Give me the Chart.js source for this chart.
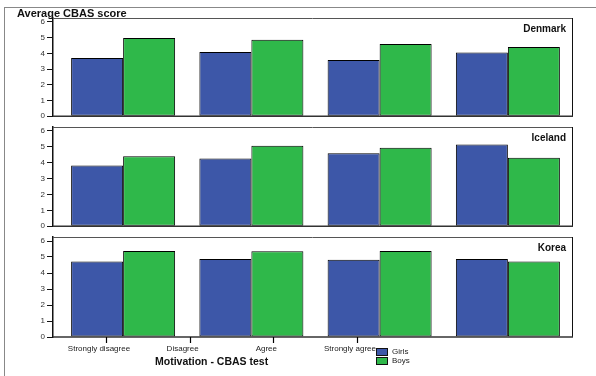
<!DOCTYPE html>
<html><head><meta charset="utf-8">
<script src="https://cdn.jsdelivr.net/npm/chart.js@4/dist/chart.umd.min.js"></script>
<style>
html,body{margin:0;padding:0;background:#fff;}
#wrap{position:relative;width:596px;height:376px;overflow:hidden;font-family:'Liberation Sans',Arial,sans-serif;}
#frame{position:absolute;left:4px;top:7px;width:640px;height:420px;border-left:1px solid #888;border-top:1px solid #888;}
canvas{position:absolute;left:0;}
.t{position:absolute;font-weight:bold;color:#111;white-space:nowrap;}
.lg{position:absolute;left:376px;width:12px;height:8px;box-sizing:border-box;border:1px solid #111;}
.lt{position:absolute;left:392px;font-size:8px;line-height:8px;color:#222;}
</style></head>
<body>
<div id="wrap">
  <div id="frame"></div>
  <canvas id="c0" width="596" height="115" style="top:8px"></canvas>
  <canvas id="c1" width="596" height="116" style="top:117px"></canvas>
  <canvas id="c2" width="596" height="149" style="top:227px"></canvas>
  <div class="t" style="left:17px;top:8px;font-size:11px;line-height:11px">Average CBAS score</div>
  <div class="t" style="left:155px;top:356px;font-size:10.5px;line-height:11px">Motivation - CBAS test</div>
  <div class="lg" style="top:348px;background:#3d57a8"></div>
  <div class="lg" style="top:357px;background:#2fb84a"></div>
  <div class="lt" style="top:348px">Girls</div>
  <div class="lt" style="top:357px">Boys</div>
</div>
<script>
// ---- data ----
const categories = ['Strongly disagree', 'Disagree', 'Agree', 'Strongly agree'];
const countries = ['Denmark', 'Iceland', 'Korea'];
const seriesNames = ['Girls', 'Boys'];
const yTicks = [0, 1, 2, 3, 4, 5, 6];
const denmarkGirls = [3.71, 4.09, 3.58, 4.06];
const denmarkBoys  = [4.97, 4.86, 4.59, 4.40];
const icelandGirls = [3.83, 4.27, 4.59, 5.14];
const icelandBoys  = [4.40, 5.07, 4.95, 4.32];
const koreaGirls   = [4.72, 4.87, 4.83, 4.88];
const koreaBoys    = [5.37, 5.36, 5.38, 4.72];

const panels = [
  [denmarkGirls, denmarkBoys],
  [icelandGirls, icelandBoys],
  [koreaGirls, koreaBoys]
];
const colors = ['#3d57a8', '#2fb84a'];

Chart.defaults.font.family = "'Liberation Sans', Arial, sans-serif";
Chart.defaults.color = '#222';

const framePlugin = {
  id: 'frame',
  afterLayout(chart) {
    const x = chart.scales.x;
    x.left = chart.chartArea.left + 6;
    x.configure();
  },
  afterDraw(chart, args, opts) {
    const {ctx, chartArea: a} = chart;
    ctx.save();
    ctx.lineWidth = 1;
    ctx.strokeStyle = '#555';
    ctx.beginPath(); ctx.moveTo(a.left, a.top + 0.5); ctx.lineTo(a.right, a.top + 0.5); ctx.stroke();
    ctx.strokeStyle = '#111';
    ctx.beginPath(); ctx.moveTo(a.right + 0.5, a.top); ctx.lineTo(a.right + 0.5, a.bottom); ctx.stroke();
    ctx.lineWidth = 1.5;
    ctx.strokeStyle = '#333';
    ctx.beginPath(); ctx.moveTo(a.left, a.bottom); ctx.lineTo(a.right + 1, a.bottom); ctx.stroke();
    const x2 = chart.scales.x2;
    if (x2) {
      ctx.lineWidth = 1.2;
      ctx.strokeStyle = '#000';
      x2.ticks.forEach(t => {
        const px = Math.round(x2.getPixelForValue(t.value)) + 0.5;
        ctx.beginPath(); ctx.moveTo(px, a.bottom); ctx.lineTo(px, a.bottom + 6); ctx.stroke();
      });
    }
    ctx.fillStyle = '#111';
    ctx.font = "bold 10px 'Liberation Sans', Arial, sans-serif";
    ctx.textAlign = 'right';
    ctx.textBaseline = 'middle';
    ctx.fillText(opts.label, a.right - 6, a.top + 11);
    ctx.restore();
  }
};

panels.forEach((vals, i) => {
  const last = i === panels.length - 1;
  const scales = {
    x: {
      type: 'category',
      display: false,
      offset: true,
      grid: { display: false }
    },
    y: {
      min: 0, max: 6.25,
      afterFit: s => { s.width = 53; },
      afterBuildTicks: s => { s.ticks = yTicks.map(v => ({ value: v })); },
      ticks: { font: { size: 8 }, color: '#333', padding: 2, includeBounds: false },
      grid: { drawOnChartArea: false, drawTicks: true, tickLength: 6, color: '#111', lineWidth: 1 },
      border: { display: true, color: '#111', width: 1.5 }
    }
  };
  if (last) {
    scales.x2 = {
      type: 'linear',
      position: 'bottom',
      bounds: 'data',
      offset: false,
      min: -0.633, max: 5.57,
      afterFit: s => { s.height = 22; },
      afterBuildTicks: s => { s.ticks = categories.map((c, k) => ({ value: k })); },
      ticks: {
        font: { size: 8 }, color: '#222', padding: 1, labelOffset: -7,
        maxRotation: 0, autoSkip: false, includeBounds: false,
        callback: (v) => categories[v]
      },
      grid: { offset: false, drawOnChartArea: false, drawTicks: true, tickLength: 6, color: 'rgba(0,0,0,0)' },
      border: { display: false }
    };
  }
  new Chart(document.getElementById('c' + i), {
    type: 'bar',
    data: {
      labels: categories,
      datasets: vals.map((d, k) => ({
        label: seriesNames[k],
        data: d,
        backgroundColor: colors[k],
        borderColor: '#000',
        borderWidth: 1,
        borderSkipped: false,
        categoryPercentage: 0.811,
        barPercentage: 1,
        xAxisID: 'x'
      }))
    },
    options: {
      responsive: false,
      animation: false,
      devicePixelRatio: 1,
      layout: { padding: { top: 10, right: 24, left: 0, bottom: last ? 17 : 6 } },
      plugins: {
        legend: { display: false },
        tooltip: { enabled: false },
        frame: { label: countries[i] }
      },
      scales
    },
    plugins: [framePlugin]
  });
});
</script>
</body></html>
